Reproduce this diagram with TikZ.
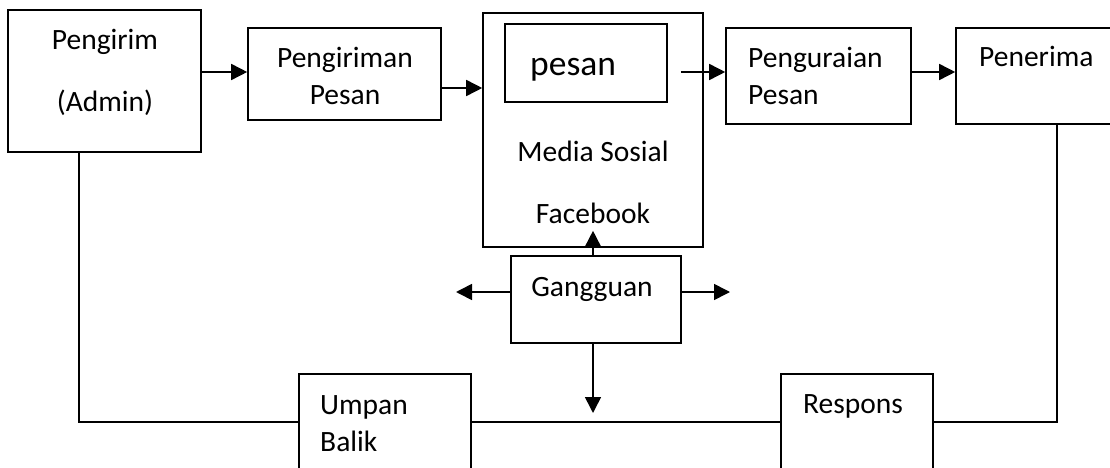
\documentclass[tikz,border=0pt]{standalone}
\usepackage{fontspec}
\setmainfont{Carlito}
\usetikzlibrary{arrows.meta}
\begin{document}
\begin{tikzpicture}[x=1pt,y=-1pt,
  box/.style={draw,line width=1.6pt,rectangle,inner sep=0pt},
  conn/.style={line width=1.6pt},
  arr/.style={conn,-{Triangle[length=16pt,width=16pt]}},
  lbl/.style={inner sep=0pt,font=\fontsize{29.5pt}{34pt}\selectfont},
  lblw/.style={lbl,anchor=base west},
  lblc/.style={lbl,anchor=base}]
\useasboundingbox (0,0) rectangle (1110,468);
\clip (0,0) rectangle (1110,468);
% boxes
\node[box,minimum width=193pt,minimum height=142pt] (pengirim) at (104.5,81) {};
\node[box,minimum width=193pt,minimum height=92pt] (pengiriman) at (344.5,74) {};
\node[box,minimum width=220pt,minimum height=234pt] (media) at (593,130) {};
\node[box,minimum width=162pt,minimum height=78pt] (pesanbox) at (586,63) {};
\node[box,minimum width=185pt,minimum height=96pt] (penguraian) at (818.5,76) {};
\node[box,minimum width=174pt,minimum height=96pt] (penerima) at (1043,76) {};
\node[box,minimum width=170pt,minimum height=87pt] (gangguan) at (596,299.5) {};
\node[box,minimum width=172pt,minimum height=116pt] (umpan) at (385,432) {};
\node[box,minimum width=152pt,minimum height=116pt] (respons) at (857,432) {};
% texts
\node[lblc] (t1) at (105,50) {Pengirim};
\node[lblc] (t2) at (105,112) {(Admin)};
\node[lblc] (t3) at (345,68) {Pengiriman};
\node[lblc] (t4) at (345,105) {Pesan};
\node[lblw,font=\fontsize{35.5pt}{40pt}\selectfont] (t5) at (530,76) {pesan};
\node[lblc] (t6) at (593,161) {Media Sosial};
\node[lblc] (t7) at (593,223) {Facebook};
\node[lblw] (t8) at (748,68) {Penguraian};
\node[lblw] (t9) at (748,105) {Pesan};
\node[lblw] (t10) at (979,67) {Penerima};
\node[lblc] (t11) at (592,296) {Gangguan};
\node[lblw] (t12) at (320,414) {Umpan};
\node[lblw] (t13) at (320,451) {Balik};
\node[lblw] (t14) at (803,413) {Respons};
% connectors
\draw[arr] ([yshift=2pt]pengiriman.west -| pengirim.east) -- ([yshift=2pt]pengiriman.west);
\draw[arr] ([yshift=-14pt]pengiriman.east) -- ([yshift=-14pt]pengiriman.east -| media.west);
\draw[arr] ([xshift=13pt,yshift=-9pt]pesanbox.east) -- ([yshift=-9pt]pesanbox.east -| penguraian.west);
\draw[arr] ([yshift=4pt]penguraian.east) -- ([yshift=4pt]penerima.west);
\draw[arr] (gangguan.north -| media.south) -- ([yshift=17pt]media.south);
\coordinate (gl) at (456,292);
\coordinate (gr) at (730,292);
\coordinate (gd) at (593,413);
\draw[arr] (gl -| gangguan.west) -- (gl);
\draw[arr] (gr -| gangguan.east) -- (gr);
\draw[arr] (gangguan.south -| gd) -- (gd);
\coordinate (bl) at (79,422);
\coordinate (br) at (1057,422);
\draw[conn] (pengirim.south -| bl) -- (bl) -- (bl -| umpan.west);
\draw[conn] (bl -| umpan.east) -- (bl -| respons.west);
\draw[conn] (br -| respons.east) -- (br) -- (br |- penerima.south);
\end{tikzpicture}
\end{document}
